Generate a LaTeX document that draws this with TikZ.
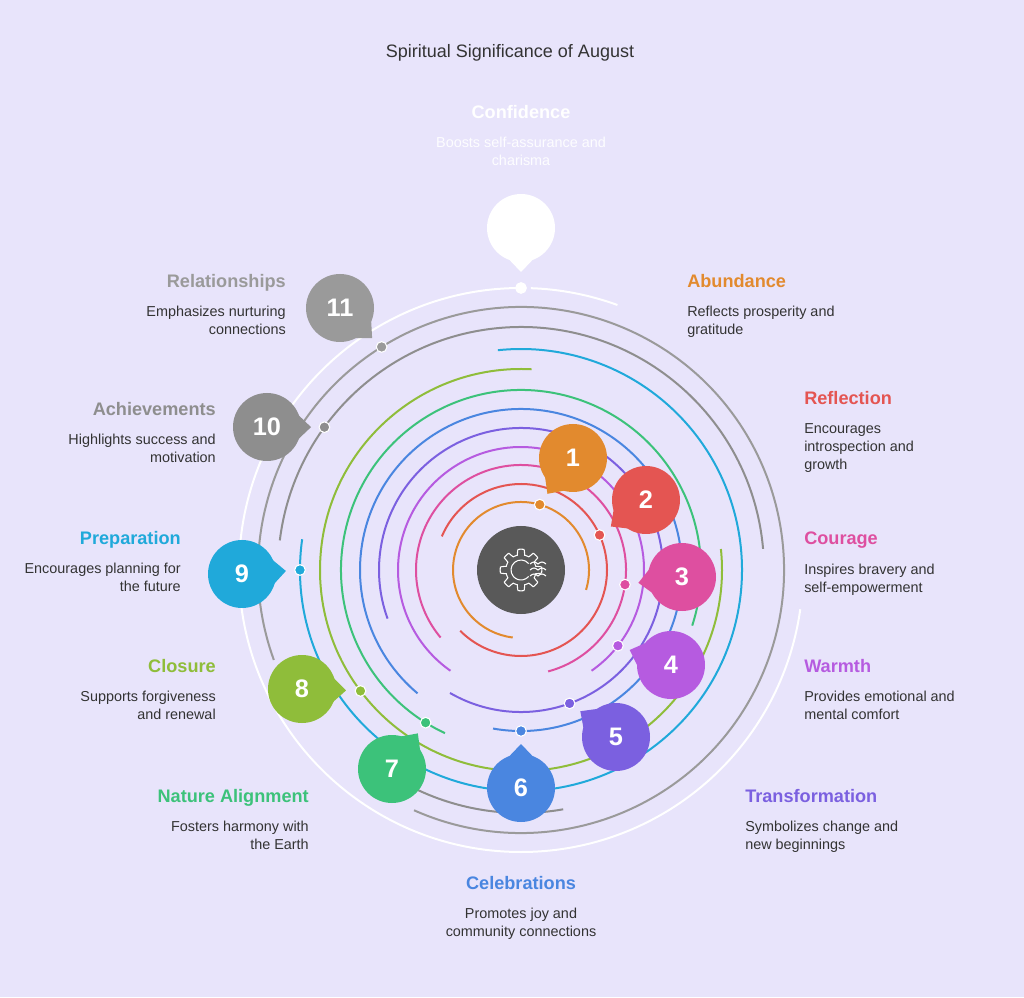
\documentclass[tikz,border=0pt]{standalone}
\usepackage{fontspec}
\setmainfont{Liberation Sans}
\usetikzlibrary{calc}
\definecolor{bgc}{HTML}{E8E4FB}
\definecolor{c1}{HTML}{E28A2E}
\definecolor{c2}{HTML}{E45552}
\definecolor{c3}{HTML}{DE4FA0}
\definecolor{c4}{HTML}{B65BE0}
\definecolor{c5}{HTML}{7B60E0}
\definecolor{c6}{HTML}{4A86E0}
\definecolor{c7}{HTML}{3CC27A}
\definecolor{c8}{HTML}{8FBD3A}
\definecolor{c9}{HTML}{20A9DA}
\definecolor{c10}{HTML}{8E8E8E}
\definecolor{c11}{HTML}{9A9A9A}
\definecolor{c12}{HTML}{FFFFFF}
\definecolor{txt}{HTML}{333333}
\begin{document}
\begin{tikzpicture}[
        x=0.75pt, y=0.75pt,
        ring/.style={line width=1.5pt},
        dotmark/.style={circle, draw=white, line width=0.8pt, inner sep=0pt, minimum size=8pt},
        bubble/.style={circle, inner sep=0pt, minimum size=51pt, text=white, font=\bfseries\fontsize{19}{22}\selectfont},
        head/.style={font=\bfseries\fontsize{13.6}{15}\selectfont},
        desc/.style={text=txt, font=\fontsize{10.8}{13.5}\selectfont}
    ]
    \fill[bgc] (0,0) rectangle (1024,997);
    \useasboundingbox (0,0) rectangle (1024,997);

    % title
    \node[text=txt, font=\fontsize{13.5}{16}\selectfont] (title) at (510,944) {Spiritual Significance of August};

    \coordinate (ctr) at (521,427);

    % rings
    \foreach \r/\s/\e/\c in {68/-17/263/c1, 86/-135/157/c2, 105/-75/220/c3, 123/-55/235/c4,
                             142/-120/200/c5, 161/-100/230/c6, 180/-18/245/c7, 201/87/366/c8,
                             221/172/456/c9, 243/5/173/c10, 243/240/280/c10, 263/-114/200/c11,
                             282/90/352/c12, 282/70/88/c12}
        \draw[ring, \c] ($(ctr)+(\s:\r)$) arc[start angle=\s, end angle=\e, radius=\r];

    % centre hub
    \node[circle, fill=black!65, minimum size=66pt] (hub) at (ctr) {};
    \begin{scope}[shift={(ctr)}, white, line width=0.8pt]
        \draw plot[domain=0:360, samples=181, smooth] (\x:{18+2.8*max(min(3*cos(8*\x),1),-1)});
        \draw (40:10) arc[start angle=40, end angle=320, radius=10];
        \foreach \dy in {-6,0,6}
            \draw (9,\dy) sin ++(4,2) cos ++(4,-2) sin ++(4,2) cos ++(4,-2);
    \end{scope}

    % bubbles and markers
    \foreach \k/\r/\a/\bx/\by in {1/68/74/573/458, 2/86/24/646/500, 3/105/-8/682/577,
                                  4/123/-38/671/665, 5/142/-70/616/737, 6/161/-90/521/788,
                                  7/180/-122/392/769, 8/201/-143/302/689, 9/221/180/242/574,
                                  10/243/144/267/427, 11/263/122/340/308, 12/282/90/521/228} {
        \coordinate (d\k) at ($(ctr)+(\a:\r)$);
        \node[bubble, fill=c\k] (b\k) at (\bx,997-\by) {\ifnum\k<12 \k\fi};
        \fill[c\k] ($(b\k)!33pt!(d\k)$) -- ($(b\k)!24pt!28:(d\k)$) -- ($(b\k)!24pt!-28:(d\k)$) -- cycle;
        \node[dotmark, fill=c\k] (m\k) at (d\k) {};
    }

    % labels
    \foreach \k/\x/\y/\anc/\al/\hd/\ds in {
        1/687/281/north west/left/Abundance/{Reflects prosperity and\\gratitude},
        2/804/398/north west/left/Reflection/{Encourages\\introspection and\\growth},
        3/804/539/north west/left/Courage/{Inspires bravery and\\self-empowerment},
        4/804/666/north west/left/Warmth/{Provides emotional and\\mental comfort},
        5/745/796/north west/left/Transformation/{Symbolizes change and\\new beginnings},
        6/521/883/north/center/Celebrations/{Promotes joy and\\community connections},
        7/309/796/north east/right/Nature Alignment/{Fosters harmony with\\the Earth},
        8/216/666/north east/right/Closure/{Supports forgiveness\\and renewal},
        9/181/538/north east/right/Preparation/{Encourages planning for\\the future},
        10/216/409/north east/right/Achievements/{Highlights success and\\motivation},
        11/286/281/north east/right/Relationships/{Emphasizes nurturing\\connections}} {
        \node[head, text=c\k, anchor=\anc, inner sep=0pt] (h\k) at (\x,997-\y+7) {\hd};
        \node[desc, anchor=\anc, align=\al, inner sep=0pt] (t\k) at (\x,997-\y-25) {\ds};
    }
    \node[head, text=white, anchor=north, inner sep=0pt] (h12) at (521,997-112+7) {Confidence};
    \node[desc, text=white!92!bgc, anchor=north, align=center, inner sep=0pt] (t12) at (521,997-112-25) {Boosts self-assurance and\\charisma};

\end{tikzpicture}
\end{document}
